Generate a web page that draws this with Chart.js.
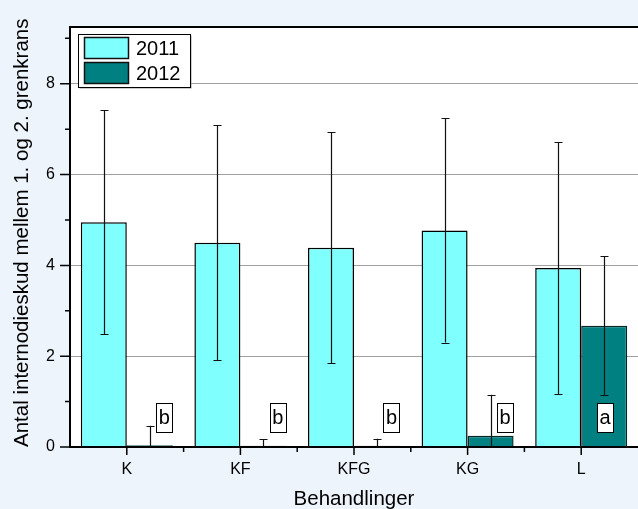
<!DOCTYPE html>
<html>
<head>
<meta charset="utf-8">
<script src="https://cdn.jsdelivr.net/npm/chart.js@4.4.1/dist/chart.umd.min.js"></script>
<style>
  html, body { margin: 0; padding: 0; background: #EEF4FC; }
  #wrap { width: 638px; height: 509px; position: relative; }
</style>
</head>
<body>
<div id="wrap"><canvas id="c"></canvas></div>
<script>
// Treatments and yearly means with their standard deviations
const categories = ['K', 'KF', 'KFG', 'KG', 'L'];
const seriesNames = ['2011', '2012'];
const mean2011 = [4.95, 4.50, 4.39, 4.77, 3.94];
const err2011  = [2.47, 2.59, 2.55, 2.47, 2.78];
const mean2012 = [0.04, 0.03, 0.03, 0.25, 2.67];
const err2012  = [0.43, 0.14, 0.15, 0.90, 1.53];
// Significance groups for 2012
const sigLetters = ['b', 'b', 'b', 'b', 'a'];
const yMajorTicks = [0, 2, 4, 6, 8];
const yMinorTicks = [1, 3, 5, 7, 9];

const FONT = "'Liberation Sans', Arial, Helvetica, sans-serif";
Chart.defaults.font.family = FONT;
Chart.defaults.color = '#000';

const decor = {
  id: 'decor',
  beforeDraw(chart) {
    const { ctx, chartArea: a } = chart;
    ctx.save();
    ctx.fillStyle = '#ffffff';
    ctx.fillRect(a.left, a.top, a.right - a.left, a.bottom - a.top);
    ctx.restore();
  },
  afterDatasetsDraw(chart) {
    const { ctx, chartArea: a } = chart;
    const xs = chart.scales.x, ys = chart.scales.y;

    // error bars, clipped to the plot area
    ctx.save();
    ctx.beginPath();
    ctx.rect(a.left, a.top, a.right - a.left, a.bottom - a.top);
    ctx.clip();
    ctx.strokeStyle = '#111';
    ctx.lineWidth = 1.2;
    chart.data.datasets.forEach((ds, di) => {
      const meta = chart.getDatasetMeta(di);
      meta.data.forEach((bar, i) => {
        const x = Math.round(bar.x) + 0.5;
        const yTop = ys.getPixelForValue(ds.data[i] + ds.errors[i]);
        const yBot = ys.getPixelForValue(ds.data[i] - ds.errors[i]);
        ctx.beginPath();
        ctx.moveTo(x, yTop); ctx.lineTo(x, yBot);
        ctx.moveTo(x - 4, Math.round(yTop) + 0.5); ctx.lineTo(x + 4, Math.round(yTop) + 0.5);
        ctx.moveTo(x - 4, Math.round(yBot) + 0.5); ctx.lineTo(x + 4, Math.round(yBot) + 0.5);
        ctx.stroke();
      });
    });
    ctx.restore();

    // significance letters in boxes
    ctx.save();
    const letterShift = [0.33, 0.33, 0.33, 0.33, 0.21];
    ctx.font = '20px ' + FONT;
    ctx.textAlign = 'center';
    ctx.textBaseline = 'middle';
    sigLetters.forEach((t, i) => {
      const cx = xs.getPixelForValue(i + letterShift[i]);
      const cy = ys.getPixelForValue(0.64);
      const w = 16, h = 29;
      ctx.fillStyle = '#fff';
      ctx.fillRect(Math.round(cx - w / 2), Math.round(cy - h / 2), w, h);
      ctx.strokeStyle = '#000';
      ctx.lineWidth = 1;
      ctx.strokeRect(Math.round(cx - w / 2) + 0.5, Math.round(cy - h / 2) + 0.5, w, h);
      ctx.fillStyle = '#000';
      ctx.fillText(t, cx, cy + 1);
    });
    ctx.restore();

    // axis frame and tick marks
    ctx.save();
    ctx.strokeStyle = '#000';
    ctx.lineWidth = 2;
    ctx.beginPath();
    ctx.moveTo(a.left, a.top); ctx.lineTo(a.right, a.top);
    ctx.moveTo(a.left, a.top - 1); ctx.lineTo(a.left, a.bottom + 1);
    ctx.moveTo(a.left - 1, a.bottom); ctx.lineTo(a.right, a.bottom);
    ctx.stroke();
    ctx.lineWidth = 1.5;
    ctx.beginPath();
    yMajorTicks.forEach(v => {
      const y = ys.getPixelForValue(v);
      ctx.moveTo(a.left - 10, y); ctx.lineTo(a.left, y);
    });
    yMinorTicks.forEach(v => {
      const y = ys.getPixelForValue(v);
      ctx.moveTo(a.left - 5, y); ctx.lineTo(a.left, y);
    });
    categories.forEach((c, i) => {
      const x = xs.getPixelForValue(i);
      ctx.moveTo(x, a.bottom); ctx.lineTo(x, a.bottom + 8);
      if (i < categories.length - 1) {
        const xm = xs.getPixelForValue(i + 0.5);
        ctx.moveTo(xm, a.bottom); ctx.lineTo(xm, a.bottom + 5);
      }
    });
    ctx.stroke();
    ctx.restore();

    // legend
    ctx.save();
    const lx = 78, ly = 34, lw = 112, lh = 53;
    ctx.fillStyle = '#9a9a9a';
    ctx.fillRect(lx + 1.5, ly + 1.5, lw, lh);
    ctx.fillStyle = '#fff';
    ctx.fillRect(lx, ly, lw, lh);
    ctx.strokeStyle = '#000';
    ctx.lineWidth = 1;
    ctx.strokeRect(lx + 0.5, ly + 0.5, lw, lh);
    ctx.font = '20px ' + FONT;
    ctx.textAlign = 'left';
    ctx.textBaseline = 'middle';
    chart.data.datasets.forEach((ds, di) => {
      const sy = ly + 3 + di * 25;
      ctx.fillStyle = ds.backgroundColor;
      ctx.fillRect(lx + 6, sy, 44, 21);
      ctx.strokeStyle = '#111';
      ctx.lineWidth = 1.5;
      ctx.strokeRect(lx + 6.5, sy + 0.5, 44, 21);
      ctx.fillStyle = '#000';
      ctx.fillText(ds.label, lx + 58, sy + 12);
    });
    ctx.restore();
  }
};

new Chart(document.getElementById('c'), {
  type: 'bar',
  data: {
    labels: categories,
    datasets: [
      { label: seriesNames[0], data: mean2011, errors: err2011,
        backgroundColor: '#80FFFF', borderColor: '#000', borderWidth: 1.5,
        categoryPercentage: 0.81, barPercentage: 1 },
      { label: seriesNames[1], data: mean2012, errors: err2012,
        backgroundColor: '#008080', borderColor: '#062626', borderWidth: 1.5,
        categoryPercentage: 0.81, barPercentage: 1 }
    ]
  },
  options: {
    responsive: true,
    maintainAspectRatio: false,
    animation: false,
    layout: { padding: { left: 0, right: 0, top: 27, bottom: 0 } },
    plugins: { legend: { display: false }, tooltip: { enabled: false } },
    scales: {
      x: {
        offset: true,
        grid: { display: false, drawTicks: false },
        border: { display: false },
        ticks: { font: { size: 16 }, color: '#000', padding: 13 },
        title: { display: true, text: 'Behandlinger', color: '#000',
                 font: { size: 20.5 }, padding: { top: 0, bottom: -3 } },
        afterFit(s) { s.height = 62; }
      },
      y: {
        min: 0,
        max: 9.25,
        afterBuildTicks(s) { s.ticks = yMajorTicks.map(v => ({ value: v })); },
        grid: {
          drawTicks: false,
          color: c => (c.tick && c.tick.value === 0) ? 'rgba(0,0,0,0)' : '#a0a0a0',
          lineWidth: 1
        },
        border: { display: false },
        ticks: { font: { size: 16 }, color: '#000', padding: 15 },
        title: { display: true, text: 'Antal internodieskud mellem 1. og 2. grenkrans',
                 color: '#000', align: 'start', font: { size: 20.5 },
                 padding: { top: 10, bottom: 0 } },
        afterFit(s) { s.width = 70; }
      }
    }
  },
  plugins: [decor]
});
</script>
</body>
</html>
